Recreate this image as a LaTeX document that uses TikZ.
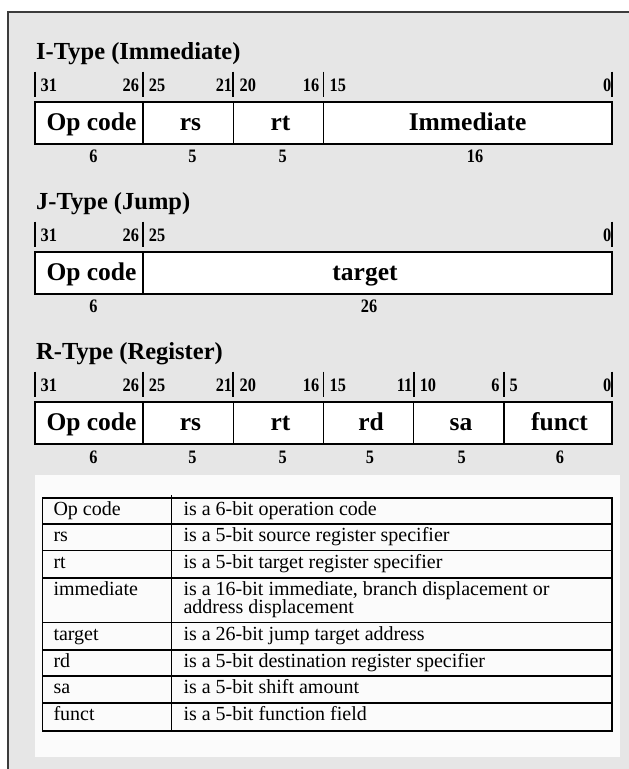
\documentclass[tikz,border=0pt]{standalone}
\usepackage{fontspec}
\setmainfont{Liberation Serif}
% narrow face for the bit positions and field widths
\newfontfamily\narrownum[FakeStretch=0.86]{Liberation Serif}
\definecolor{framegray}{HTML}{3C3C3C}
\definecolor{panelgray}{HTML}{E6E6E6}
\definecolor{tablebg}{HTML}{FBFBFB}
\begin{document}
\begin{tikzpicture}[x=1pt,y=-1pt,
  fieldbox/.style={draw=black, line width=1.6pt, fill=white},
  divider/.style={line width=1.6pt},
  tickline/.style={line width=1.8pt},
  fieldname/.style={font=\fontsize{25.5}{25.5}\selectfont\bfseries, anchor=base, inner sep=0pt},
  bitnum/.style={font=\narrownum\fontsize{19}{19}\selectfont\bfseries, inner sep=0pt},
  bitl/.style={bitnum, anchor=base west},
  bitr/.style={bitnum, anchor=base east},
  widthnum/.style={bitnum, anchor=base},
  heading/.style={font=\fontsize{24.5}{24.5}\selectfont\bfseries, anchor=base west, inner sep=0pt},
  cell/.style={font=\fontsize{20}{20}\selectfont, anchor=base west, inner sep=0pt},
  rule/.style={line width=1.8pt},
]
\path[use as bounding box] (0,0) rectangle (629,769);
\clip (0,0) rectangle (629,769);
\fill[white] (0,0) rectangle (629,769);

% outer frame, running past the right and bottom edges
\draw[line width=2pt, draw=framegray, fill=panelgray] (8.3,11.7) rectangle (680,820);

% ---------------- I-Type ----------------
\node[heading] (ihead) at (36,59.7) {I-Type (Immediate)};
\foreach \x in {35,143.2,233.3,323.5,612}
  \draw[tickline] (\x,71.7) -- (\x,96.7);
\node[bitl] (i31) at (40.5,91.2) {31};
\node[bitr] (i26) at (139.2,91.2) {26};
\node[bitl] (i25) at (148.7,91.2) {25};
\node[bitr] (i21) at (232.3,91.2) {21};
\node[bitl] (i20) at (239.5,91.2) {20};
\node[bitr] (i16) at (319.5,91.2) {16};
\node[bitl] (i15) at (329.5,91.2) {15};
\node[bitr] (i0)  at (611.5,91.2) {0};
\draw[fieldbox] (35,101.7) rectangle (612,144.2);
\foreach \x in {143.2,233.3,323.5}
  \draw[divider] (\x,101.7) -- (\x,144.2);
\node[fieldname] (iop)  at (91.5,130) {Op code};
\node[fieldname] (irs)  at (190.5,130) {rs};
\node[fieldname] (irt)  at (280.5,130) {rt};
\node[fieldname] (iimm) at (467.6,130) {Immediate};
\node[widthnum] (iw1) at (93.5,162.5) {6};
\node[widthnum] (iw2) at (192.5,162.5) {5};
\node[widthnum] (iw3) at (282.8,162.5) {5};
\node[widthnum] (iw4) at (475,162.5) {16};

% ---------------- J-Type ----------------
\node[heading] (jhead) at (36,209.7) {J-Type (Jump)};
\foreach \x in {35,143.2,612}
  \draw[tickline] (\x,221.7) -- (\x,246.7);
\node[bitl] (j31) at (40.5,241.2) {31};
\node[bitr] (j26) at (139.2,241.2) {26};
\node[bitl] (j25) at (148.7,241.2) {25};
\node[bitr] (j0)  at (611.5,241.2) {0};
\draw[fieldbox] (35,251.7) rectangle (612,294.2);
\draw[divider] (143.2,251.7) -- (143.2,294.2);
\node[fieldname] (jop)  at (91.5,280) {Op code};
\node[fieldname] (jtar) at (365,280) {target};
\node[widthnum] (jw1) at (93.5,312.5) {6};
\node[widthnum] (jw2) at (369,312.5) {26};

% ---------------- R-Type ----------------
\node[heading] (rhead) at (36,359.7) {R-Type (Register)};
\foreach \x in {35,143.2,233.3,323.5,413.6,503.8,612}
  \draw[tickline] (\x,371.7) -- (\x,396.7);
\node[bitl] (r31) at (40.5,391.2) {31};
\node[bitr] (r26) at (139.2,391.2) {26};
\node[bitl] (r25) at (148.7,391.2) {25};
\node[bitr] (r21) at (232.3,391.2) {21};
\node[bitl] (r20) at (239.5,391.2) {20};
\node[bitr] (r16) at (319.5,391.2) {16};
\node[bitl] (r15) at (329.5,391.2) {15};
\node[bitr] (r11) at (412.6,391.2) {11};
\node[bitl] (r10) at (419.6,391.2) {10};
\node[bitr] (r6)  at (499.8,391.2) {6};
\node[bitl] (r5)  at (509.3,391.2) {5};
\node[bitr] (r0)  at (611.5,391.2) {0};
\draw[fieldbox] (35,401.7) rectangle (612,444.2);
\foreach \x in {143.2,233.3,323.5,413.6,503.8}
  \draw[divider] (\x,401.7) -- (\x,444.2);
\node[fieldname] (rop) at (91.5,430) {Op code};
\node[fieldname] (rrs) at (190.5,430) {rs};
\node[fieldname] (rrt) at (280.5,430) {rt};
\node[fieldname] (rrd) at (371,430) {rd};
\node[fieldname] (rsa) at (461,430) {sa};
\node[fieldname] (rfn) at (559.5,430) {funct};
\node[widthnum] (rw1) at (93.5,463) {6};
\node[widthnum] (rw2) at (192.5,463) {5};
\node[widthnum] (rw3) at (282.8,463) {5};
\node[widthnum] (rw4) at (370,463) {5};
\node[widthnum] (rw5) at (461.7,463) {5};
\node[widthnum] (rw6) at (560,463) {6};

% ---------------- field legend ----------------
\fill[tablebg] (35,475) rectangle (620,757);
\draw[rule] (42.5,498.3) rectangle (612.3,731);
\foreach \y in {524,550.5,578,622.5,650,676.3,703}
  \draw[rule] (42.5,\y) -- (612.3,\y);
\draw[rule] (171.5,495) -- (171.5,731);

\node[cell] (k1) at (53.3,515.8) {Op code};
\node[cell] (d1) at (183.3,515.8) {is a 6-bit operation code};
\node[cell] (k2) at (53.3,541.5) {rs};
\node[cell] (d2) at (183.3,541.5) {is a 5-bit source register specifier};
\node[cell] (k3) at (53.3,568) {rt};
\node[cell] (d3) at (183.3,568) {is a 5-bit target register specifier};
\node[cell] (k4) at (53.3,595.5) {immediate};
\node[cell] (d4) at (183.3,595.5) {is a 16-bit immediate, branch displacement or};
\node[cell] (d4b) at (183.3,613.8) {address displacement};
\node[cell] (k5) at (53.3,640) {target};
\node[cell] (d5) at (183.3,640) {is a 26-bit jump target address};
\node[cell] (k6) at (53.3,667.5) {rd};
\node[cell] (d6) at (183.3,667.5) {is a 5-bit destination register specifier};
\node[cell] (k7) at (53.3,693.8) {sa};
\node[cell] (d7) at (183.3,693.8) {is a 5-bit shift amount};
\node[cell] (k8) at (53.3,720.5) {funct};
\node[cell] (d8) at (183.3,720.5) {is a 5-bit function field};
\end{tikzpicture}
\end{document}
